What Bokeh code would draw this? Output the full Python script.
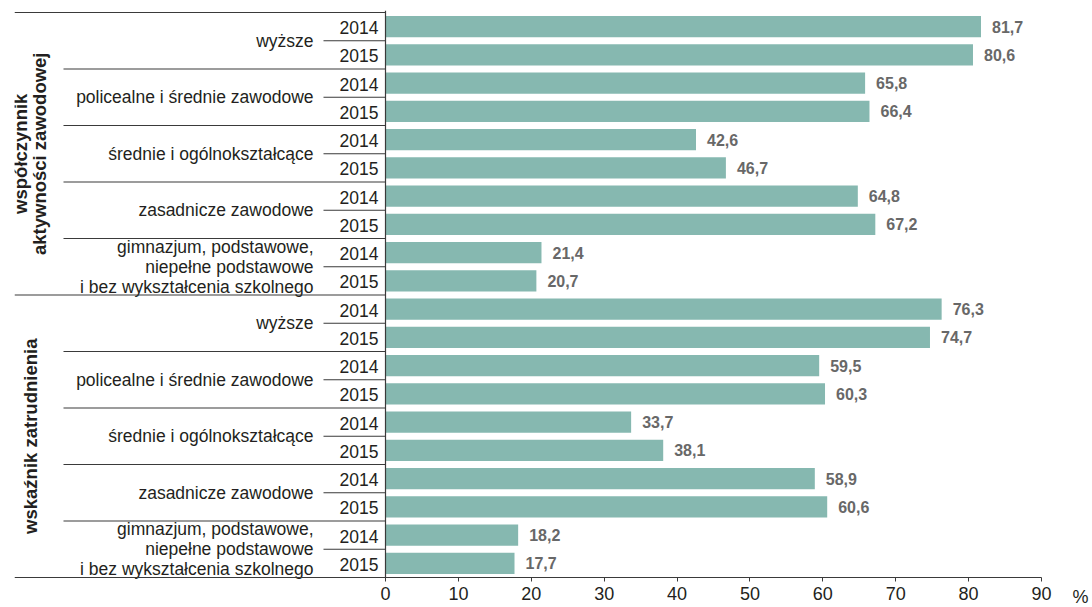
import math
from bokeh.plotting import figure
from bokeh.layouts import row
from bokeh.models import Range1d, FixedTicker, ColumnDataSource
from bokeh.core.properties import value
from bokeh.embed import file_html
from bokeh.resources import INLINE

# ---------------- data ----------------
groups = ["współczynnik\naktywności zawodowej", "wskaźnik zatrudnienia"]
categories = [
    "wyższe",
    "policealne i średnie zawodowe",
    "średnie i ogólnokształcące",
    "zasadnicze zawodowe",
    "gimnazjum, podstawowe,\nniepełne podstawowe\ni bez wykształcenia szkolnego",
]
years = ["2014", "2015"]
activity_2014 = [81.7, 65.8, 42.6, 64.8, 21.4]
activity_2015 = [80.6, 66.4, 46.7, 67.2, 20.7]
employment_2014 = [76.3, 59.5, 33.7, 58.9, 18.2]
employment_2015 = [74.7, 60.3, 38.1, 60.6, 17.7]
x_ticks = [0, 10, 20, 30, 40, 50, 60, 70, 80, 90]
unit_label = "%"

series = [
    [activity_2014, activity_2015],
    [employment_2014, employment_2015],
]

# ---------------- layout constants ----------------
W_MAIN, W_UNIT, H = 1060, 32, 607
PX_PER_UNIT = 656 / 90.0
ROW_PX = 28.25
LEFT_PX = 371  # width of label area in px (left of zero)
RIGHT_PX = 19  # room right of the 90 tick inside the frame
x_start = -LEFT_PX / PX_PER_UNIT
x_max = x_ticks[-1]
x_end = x_max + RIGHT_PX / PX_PER_UNIT
n_rows = len(groups) * len(categories) * len(years)
TOP_BORDER = 10
top_pad = 2 / ROW_PX
bottom_pad = (H - TOP_BORDER - 2 - n_rows * ROW_PX) / ROW_PX  # room for tick labels

FONT = "Liberation Sans"
TXT = "#231f20"
LINE = "#3a3a3a"
BAR = "#86b8b0"
VAL = "#686868"


def style_axis(ax):
    ax.fixed_location = n_rows
    ax.axis_line_color = None
    ax.major_tick_out = 4
    ax.major_tick_in = 0
    ax.minor_tick_line_color = None
    ax.major_label_standoff = 5
    ax.major_label_text_font = FONT
    ax.major_label_text_font_size = "18px"
    ax.major_label_text_color = TXT


def base_fig(width, x_range, left, right):
    f = figure(width=width, height=H, output_backend="svg", toolbar_location=None,
               x_range=x_range, y_range=Range1d(n_rows + bottom_pad, -top_pad),
               y_axis_location=None, min_border_left=left, min_border_right=right,
               min_border_top=TOP_BORDER, min_border_bottom=0)
    f.outline_line_color = None
    f.xgrid.visible = False
    f.ygrid.visible = False
    return f


p = base_fig(W_MAIN, Range1d(x_start, x_end), 14, 0)

# build rows
ys, vals, ylabels = [], [], []
cat_y, cat_txt = [], []
grp_y = []
r = 0
for gi, g in enumerate(groups):
    g_start = r
    for ci, c in enumerate(categories):
        c_start = r
        for yi, yr in enumerate(years):
            ys.append(r + 0.5)
            vals.append(series[gi][yi][ci])
            ylabels.append(yr)
            r += 1
        cat_y.append((c_start + r) / 2)
        cat_txt.append(c)
    grp_y.append((g_start + r) / 2)

src = ColumnDataSource(dict(y=ys, v=vals, yr=ylabels,
                            vt=[f"{v:.1f}".replace(".", ",") for v in vals]))

p.hbar(y="y", left=0, right="v", height=0.75, source=src,
       fill_color=BAR, line_color=None)

p.text(x="v", y="y", text="vt", source=src, x_offset=11,
       text_align="left", text_baseline="middle",
       text_font=value(FONT), text_font_style="bold",
       text_font_size="16px", text_color=VAL)

# year labels
p.text(x=-7 / PX_PER_UNIT, y="y", text="yr", source=src,
       text_align="right", text_baseline="middle", y_offset=1,
       text_font=value(FONT), text_font_size="17.5px", text_color=TXT)

# category labels
p.text(x=[-72 / PX_PER_UNIT] * len(cat_y), y=cat_y, text=cat_txt,
       text_align="right", text_baseline="middle", text_line_height=1.0,
       text_font=value(FONT), text_font_size="17.5px", text_color=TXT)

# group labels
p.text(x=[-355.5 / PX_PER_UNIT] * len(grp_y), y=grp_y, text=groups,
       angle=math.pi / 2, text_align="center", text_baseline="middle",
       text_line_height=0.95,
       text_font=value(FONT), text_font_style="bold",
       text_font_size="18.5px", text_color=TXT)

# separator lines
n_cat = len(categories) * len(years)
top_lines = [0, n_cat]
cat_lines = [k * 2 for k in range(1, n_rows // 2) if k * 2 not in top_lines]
year_lines = [k + 0.0 for k in range(1, n_rows, 2)]
p.segment(x0=[x_start] * len(top_lines), x1=[0] * len(top_lines),
          y0=top_lines, y1=top_lines, line_color=LINE, line_width=1.2)
p.segment(x0=[-322 / PX_PER_UNIT] * len(cat_lines), x1=[0] * len(cat_lines),
          y0=cat_lines, y1=cat_lines, line_color=LINE, line_width=1.2)
p.segment(x0=[-62 / PX_PER_UNIT] * len(year_lines), x1=[0] * len(year_lines),
          y0=year_lines, y1=year_lines, line_color=LINE, line_width=1.2)
# bottom baseline (x axis line) and zero line
p.segment(x0=[x_start], x1=[x_max], y0=[n_rows], y1=[n_rows], line_color=LINE, line_width=1.2)
p.segment(x0=[0], x1=[0], y0=[-top_pad], y1=[n_rows], line_color=LINE, line_width=1.2)

# x axis
ax = p.xaxis[0]
ax.ticker = FixedTicker(ticks=x_ticks)
ax.major_tick_line_color = LINE
style_axis(ax)

# unit label ("%") as the single tick label of a companion figure's axis
u = base_fig(W_UNIT, Range1d(0, W_UNIT), 0, 0)
uax = u.xaxis[0]
uax.ticker = FixedTicker(ticks=[20])
uax.major_label_overrides = {20: unit_label}
uax.major_tick_line_color = None
style_axis(uax)

layout = row(p, u)
open("out.html", "w").write(file_html(layout, INLINE))
